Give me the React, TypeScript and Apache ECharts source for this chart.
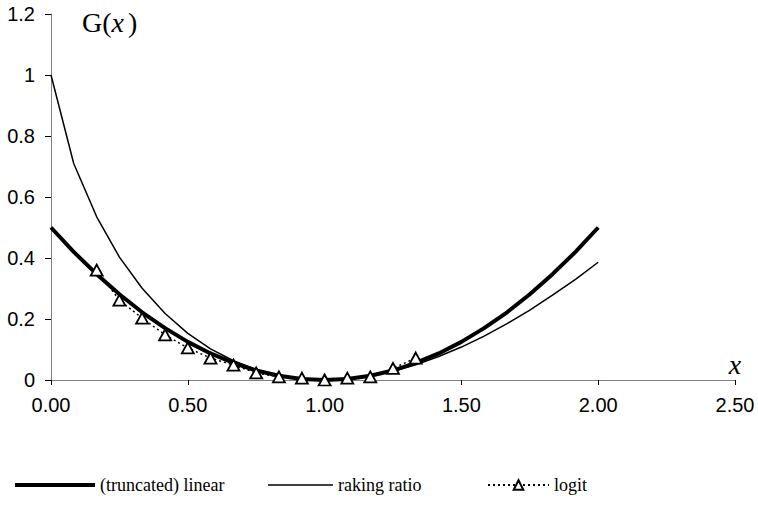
import React, { useEffect, useRef } from "react";
import * as echarts from "echarts";

// x grid used by the two continuous curves (steps of 1/12)
const xGrid = [
  0, 0.083, 0.167, 0.25, 0.333, 0.417, 0.5, 0.583, 0.667, 0.75, 0.833, 0.917, 1,
  1.083, 1.167, 1.25, 1.333, 1.417, 1.5, 1.583, 1.667, 1.75, 1.833, 1.917, 2,
];

const linearValues = [
  0.5, 0.42, 0.347, 0.281, 0.222, 0.17, 0.125, 0.087, 0.056, 0.031, 0.014, 0.003, 0,
  0.003, 0.014, 0.031, 0.056, 0.087, 0.125, 0.17, 0.222, 0.281, 0.347, 0.42, 0.5,
];

const rakingValues = [
  1.0, 0.71, 0.535, 0.403, 0.301, 0.218, 0.153, 0.102, 0.063, 0.034, 0.015, 0.004, 0,
  0.003, 0.013, 0.029, 0.05, 0.077, 0.108, 0.144, 0.185, 0.229, 0.278, 0.33, 0.386,
];

// logit distance is only defined on a bounded range
const logitX = [
  0.167, 0.25, 0.333, 0.417, 0.5, 0.583, 0.667, 0.75, 0.833, 0.917, 1, 1.083, 1.167,
  1.25, 1.333,
];
const logitValues = [
  0.36, 0.262, 0.203, 0.148, 0.105, 0.072, 0.049, 0.023, 0.01, 0.006, 0, 0.006, 0.01,
  0.038, 0.072,
];

const seriesNames = ["(truncated) linear", "raking ratio", "logit"];

const SERIF = "'Times New Roman', 'Liberation Serif', serif";
const SANS = "Arial, 'Liberation Sans', sans-serif";

const pairs = (xs: number[], ys: number[]) => xs.map((x, i) => [x, ys[i]]);

export default function App() {
  const ref = useRef<HTMLDivElement>(null);

  useEffect(() => {
    if (!ref.current) return;
    const chart = echarts.init(ref.current, undefined, { renderer: "svg" });

    const legendText = { fontFamily: SERIF, fontSize: 18, color: "#000", lineHeight: 22 };
    // the legend box top sits at the top of its text line
    const LEGEND_TOP = 474;
    const legendAt = (left: number, itemWidth: number, itemHeight: number, name: string, icon?: string) => ({
      left,
      top: LEGEND_TOP,
      padding: 0,
      itemWidth,
      itemHeight,
      selectedMode: false as const,
      textStyle: legendText,
      ...(icon ? { icon } : {}),
      data: [name],
    });

    chart.setOption({
      animation: false,
      backgroundColor: "#fff",
      title: {
        text: "{a|G(}{b|x}{a|)}",
        left: 77,
        top: 3,
        textStyle: {
          fontWeight: "normal",
          rich: {
            a: { fontFamily: SERIF, fontSize: 28, fontWeight: "normal", color: "#000" },
            b: {
              fontFamily: SERIF,
              fontSize: 28,
              fontStyle: "italic",
              fontWeight: "normal",
              color: "#000",
              padding: [0, 4, 0, 0],
            },
          },
        },
      },
      grid: { left: 51, right: 23, top: 14, bottom: 126, containLabel: false },
      legend: [
        legendAt(15, 80, 4, seriesNames[0], "rect"),
        legendAt(268, 65, 1.5, seriesNames[1], "rect"),
        legendAt(487, 61, 12, seriesNames[2]),
      ],
      xAxis: {
        type: "value",
        min: 0,
        max: 2.5,
        interval: 0.5,
        name: "x",
        nameLocation: "end",
        nameGap: 0,
        nameTextStyle: {
          fontFamily: SERIF,
          fontSize: 28,
          fontStyle: "italic",
          color: "#000",
          align: "center",
          verticalAlign: "bottom",
          padding: [0, 0, 2, 0],
        },
        splitLine: { show: false },
        axisLine: { show: true, onZero: false, lineStyle: { color: "#808080", width: 1 } },
        axisTick: { show: true, length: 5, lineStyle: { color: "#000", width: 1 } },
        axisLabel: {
          margin: 15,
          fontFamily: SANS,
          fontSize: 20,
          color: "#000",
          formatter: (v: number) => v.toFixed(2),
        },
      },
      yAxis: {
        type: "value",
        min: 0,
        max: 1.2,
        interval: 0.2,
        splitLine: { show: false },
        axisLine: { show: true, onZero: false, lineStyle: { color: "#808080", width: 1 } },
        axisTick: { show: true, length: 6, lineStyle: { color: "#000", width: 1 } },
        axisLabel: {
          margin: 16,
          fontFamily: SANS,
          fontSize: 20,
          color: "#000",
        },
      },
      series: [
        {
          name: seriesNames[0],
          type: "line",
          data: pairs(xGrid, linearValues),
          symbol: "none",
          lineStyle: { color: "#000", width: 4 },
          itemStyle: { color: "#000" },
          z: 2,
        },
        {
          name: seriesNames[1],
          type: "line",
          data: pairs(xGrid, rakingValues),
          symbol: "none",
          lineStyle: { color: "#000", width: 1.5 },
          itemStyle: { color: "#000" },
          z: 3,
        },
        {
          name: seriesNames[2],
          type: "line",
          data: pairs(logitX, logitValues),
          symbol: "triangle",
          symbolSize: [12, 11],
          lineStyle: { color: "#000", width: 1.5, type: [2, 3] },
          itemStyle: { color: "#fff", borderColor: "#000", borderWidth: 1.8 },
          z: 4,
        },
      ],
    });

    return () => chart.dispose();
  }, []);

  return (
    <div
      ref={ref}
      style={{ position: "fixed", left: 0, top: 0, width: 758, height: 506, background: "#fff" }}
    />
  );
}
